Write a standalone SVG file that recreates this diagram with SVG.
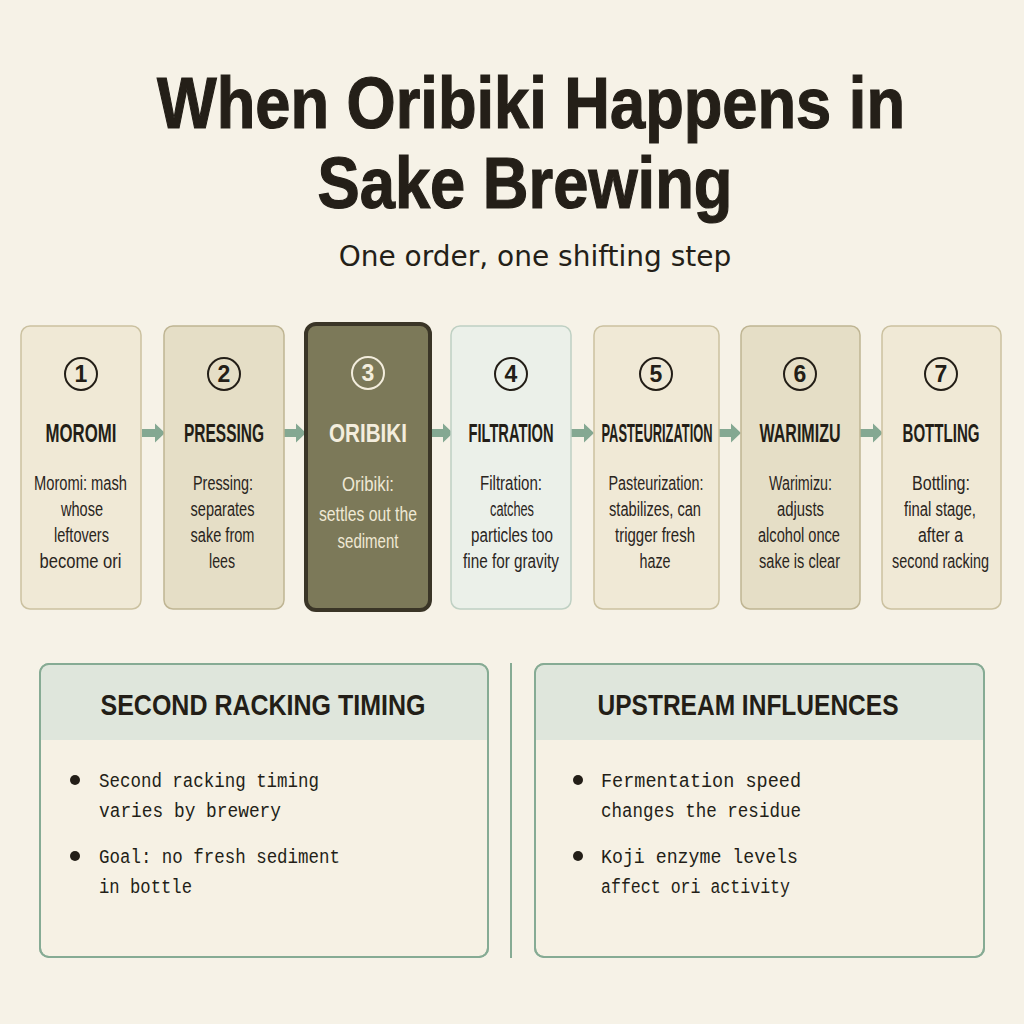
<svg xmlns="http://www.w3.org/2000/svg" width="1024" height="1024" viewBox="0 0 1024 1024">
<defs>
<style>
.title{font-family:"Liberation Sans",Arial,sans-serif;font-weight:bold;font-size:72px;fill:#241f18;stroke:#241f18;stroke-width:1.2;text-anchor:middle}
.sub{font-family:"DejaVu Sans",sans-serif;font-size:28px;fill:#241f18;text-anchor:middle}
.lbl{font-family:"Liberation Sans",Arial,sans-serif;font-weight:bold;font-size:26px;fill:#231e17;text-anchor:middle}
.num{font-family:"Liberation Sans",Arial,sans-serif;font-weight:bold;font-size:23px;fill:#231e17;text-anchor:middle}
.desc{font-family:"Liberation Sans",Arial,sans-serif;font-size:20px;fill:#2a251d;text-anchor:middle}
.circ{fill:none;stroke:#231e17;stroke-width:2}
.n-a{fill:#f0e9d6;stroke:#cbc1a0;stroke-width:1.5}
.n-b{fill:#e5dec6;stroke:#bfb593;stroke-width:1.5}
.n-c{fill:#7c7959;stroke:#3a3527;stroke-width:4}
.n-d{fill:#ebf0e9;stroke:#bfd0c3;stroke-width:1.5}
.arrow{fill:#84a892}
.panel{fill:#f6f1e4;stroke:#86ab94;stroke-width:2}
.phead{fill:#dfe6dc}
.ptitle{font-family:"Liberation Sans",Arial,sans-serif;font-weight:bold;font-size:30px;fill:#231e17;text-anchor:middle}
.mono{font-family:"Liberation Mono","DejaVu Sans Mono",monospace;font-size:19.5px;fill:#231e17}
.dot{fill:#231e17}
.lt{fill:#efe8d4;font-size:21px}
</style>
<path id="arr" d="M0,-4 H13 V-9.5 L23,0 L13,9.5 V4 H0 Z"/>
</defs>
<rect width="1024" height="1024" fill="#f6f2e7"/>

<g id="title">
<text class="title" x="531" y="128" textLength="748" lengthAdjust="spacingAndGlyphs">When Oribiki Happens in</text>
<text class="title" x="525" y="208" textLength="415" lengthAdjust="spacingAndGlyphs">Sake Brewing</text>
<text class="sub" x="535" y="266">One order, one shifting step</text>
</g>

<g id="connectors">
<use href="#arr" class="arrow" x="142" y="433"/>
<use href="#arr" class="arrow" x="283" y="433"/>
<use href="#arr" class="arrow" x="430" y="433"/>
<use href="#arr" class="arrow" x="571" y="433"/>
<use href="#arr" class="arrow" x="718" y="433"/>
<use href="#arr" class="arrow" x="860" y="433"/>
</g>

<g id="node1">
<rect class="n-a" x="21" y="326" width="120" height="283" rx="9"/>
<circle class="circ" cx="81" cy="374" r="16"/>
<text class="num" x="81" y="382">1</text>
<text class="lbl" x="81" y="442" textLength="71" lengthAdjust="spacingAndGlyphs">MOROMI</text>
<text class="desc" x="80.5" y="490" textLength="93" lengthAdjust="spacingAndGlyphs">Moromi: mash</text>
<text class="desc" x="82" y="516" textLength="42" lengthAdjust="spacingAndGlyphs">whose</text>
<text class="desc" x="81.5" y="542" textLength="55" lengthAdjust="spacingAndGlyphs">leftovers</text>
<text class="desc" x="80.5" y="568" textLength="82" lengthAdjust="spacingAndGlyphs">become ori</text>
</g>

<g id="node2">
<rect class="n-b" x="164" y="326" width="120" height="283" rx="9"/>
<circle class="circ" cx="224" cy="374" r="16"/>
<text class="num" x="224" y="382">2</text>
<text class="lbl" x="224" y="442" textLength="80" lengthAdjust="spacingAndGlyphs">PRESSING</text>
<text class="desc" x="223" y="490" textLength="60" lengthAdjust="spacingAndGlyphs">Pressing:</text>
<text class="desc" x="222.5" y="516" textLength="64" lengthAdjust="spacingAndGlyphs">separates</text>
<text class="desc" x="222.5" y="542" textLength="64" lengthAdjust="spacingAndGlyphs">sake from</text>
<text class="desc" x="222" y="568" textLength="26" lengthAdjust="spacingAndGlyphs">lees</text>
</g>

<g id="node3">
<rect class="n-c" x="306" y="324" width="124" height="286" rx="10"/>
<circle cx="368" cy="373" r="16" fill="none" stroke="#f3eddd" stroke-width="2"/>
<text class="num" x="368" y="381" style="fill:#f3eddd">3</text>
<text class="lbl" x="368" y="442" textLength="78" lengthAdjust="spacingAndGlyphs" style="fill:#f3eddd">ORIBIKI</text>
<text class="desc lt" x="368" y="491" textLength="52" lengthAdjust="spacingAndGlyphs">Oribiki:</text>
<text class="desc lt" x="368" y="521" textLength="98" lengthAdjust="spacingAndGlyphs">settles out the</text>
<text class="desc lt" x="368" y="548" textLength="61" lengthAdjust="spacingAndGlyphs">sediment</text>
</g>

<g id="node4">
<rect class="n-d" x="451" y="326" width="120" height="283" rx="9"/>
<circle class="circ" cx="511" cy="374" r="16"/>
<text class="num" x="511" y="382">4</text>
<text class="lbl" x="511" y="442" textLength="85" lengthAdjust="spacingAndGlyphs">FILTRATION</text>
<text class="desc" x="511" y="490" textLength="62" lengthAdjust="spacingAndGlyphs">Filtration:</text>
<text class="desc" x="512" y="516" textLength="44" lengthAdjust="spacingAndGlyphs">catches</text>
<text class="desc" x="512" y="542" textLength="82" lengthAdjust="spacingAndGlyphs">particles too</text>
<text class="desc" x="511" y="568" textLength="96" lengthAdjust="spacingAndGlyphs">fine for gravity</text>
</g>

<g id="node5">
<rect class="n-a" x="594" y="326" width="125" height="283" rx="9"/>
<circle class="circ" cx="656" cy="374" r="16"/>
<text class="num" x="656" y="382">5</text>
<text class="lbl" x="657" y="442" textLength="111" lengthAdjust="spacingAndGlyphs">PASTEURIZATION</text>
<text class="desc" x="656" y="490" textLength="95" lengthAdjust="spacingAndGlyphs">Pasteurization:</text>
<text class="desc" x="655" y="516" textLength="92" lengthAdjust="spacingAndGlyphs">stabilizes, can</text>
<text class="desc" x="655" y="542" textLength="80" lengthAdjust="spacingAndGlyphs">trigger fresh</text>
<text class="desc" x="655" y="568" textLength="31" lengthAdjust="spacingAndGlyphs">haze</text>
</g>

<g id="node6">
<rect class="n-b" x="741" y="326" width="119" height="283" rx="9"/>
<circle class="circ" cx="800" cy="374" r="16"/>
<text class="num" x="800" y="382">6</text>
<text class="lbl" x="800" y="442" textLength="81" lengthAdjust="spacingAndGlyphs">WARIMIZU</text>
<text class="desc" x="800.5" y="490" textLength="63" lengthAdjust="spacingAndGlyphs">Warimizu:</text>
<text class="desc" x="800.5" y="516" textLength="47" lengthAdjust="spacingAndGlyphs">adjusts</text>
<text class="desc" x="799" y="542" textLength="82" lengthAdjust="spacingAndGlyphs">alcohol once</text>
<text class="desc" x="799.5" y="568" textLength="81" lengthAdjust="spacingAndGlyphs">sake is clear</text>
</g>

<g id="node7">
<rect class="n-a" x="882" y="326" width="119" height="283" rx="9"/>
<circle class="circ" cx="941" cy="374" r="16"/>
<text class="num" x="941" y="382">7</text>
<text class="lbl" x="941" y="442" textLength="77" lengthAdjust="spacingAndGlyphs">BOTTLING</text>
<text class="desc" x="941" y="490" textLength="58" lengthAdjust="spacingAndGlyphs">Bottling:</text>
<text class="desc" x="940" y="516" textLength="72" lengthAdjust="spacingAndGlyphs">final stage,</text>
<text class="desc" x="940.5" y="542" textLength="45" lengthAdjust="spacingAndGlyphs">after a</text>
<text class="desc" x="940.5" y="568" textLength="97" lengthAdjust="spacingAndGlyphs">second racking</text>
</g>

<line x1="511" y1="663" x2="511" y2="958" stroke="#86ab94" stroke-width="2"/>

<g id="panel-left">
<rect class="panel" x="40" y="664" width="448" height="293" rx="9"/>
<path class="phead" d="M41,740 V673 A8,8 0 0 1 49,665 H479 A8,8 0 0 1 487,673 V740 Z"/>
<rect x="40" y="664" width="448" height="293" rx="9" fill="none" stroke="#86ab94" stroke-width="2"/>
<text class="ptitle" x="263" y="715" textLength="325" lengthAdjust="spacingAndGlyphs">SECOND RACKING TIMING</text>
<circle class="dot" cx="75" cy="780" r="5"/>
<text class="mono" x="99" y="787" textLength="220" lengthAdjust="spacingAndGlyphs">Second racking timing</text>
<text class="mono" x="99" y="817" textLength="182" lengthAdjust="spacingAndGlyphs">varies by brewery</text>
<circle class="dot" cx="75" cy="856" r="5"/>
<text class="mono" x="99" y="863" textLength="241" lengthAdjust="spacingAndGlyphs">Goal: no fresh sediment</text>
<text class="mono" x="99" y="893" textLength="93" lengthAdjust="spacingAndGlyphs">in bottle</text>
</g>

<g id="panel-right">
<rect class="panel" x="535" y="664" width="449" height="293" rx="9"/>
<path class="phead" d="M536,740 V673 A8,8 0 0 1 544,665 H975 A8,8 0 0 1 983,673 V740 Z"/>
<rect x="535" y="664" width="449" height="293" rx="9" fill="none" stroke="#86ab94" stroke-width="2"/>
<text class="ptitle" x="748" y="715" textLength="301" lengthAdjust="spacingAndGlyphs">UPSTREAM INFLUENCES</text>
<circle class="dot" cx="578" cy="780" r="5"/>
<text class="mono" x="601" y="787" textLength="200" lengthAdjust="spacingAndGlyphs">Fermentation speed</text>
<text class="mono" x="601" y="817" textLength="200" lengthAdjust="spacingAndGlyphs">changes the residue</text>
<circle class="dot" cx="578" cy="856" r="5"/>
<text class="mono" x="601" y="863" textLength="197" lengthAdjust="spacingAndGlyphs">Koji enzyme levels</text>
<text class="mono" x="601" y="893" textLength="189" lengthAdjust="spacingAndGlyphs">affect ori activity</text>
</g>
</svg>
